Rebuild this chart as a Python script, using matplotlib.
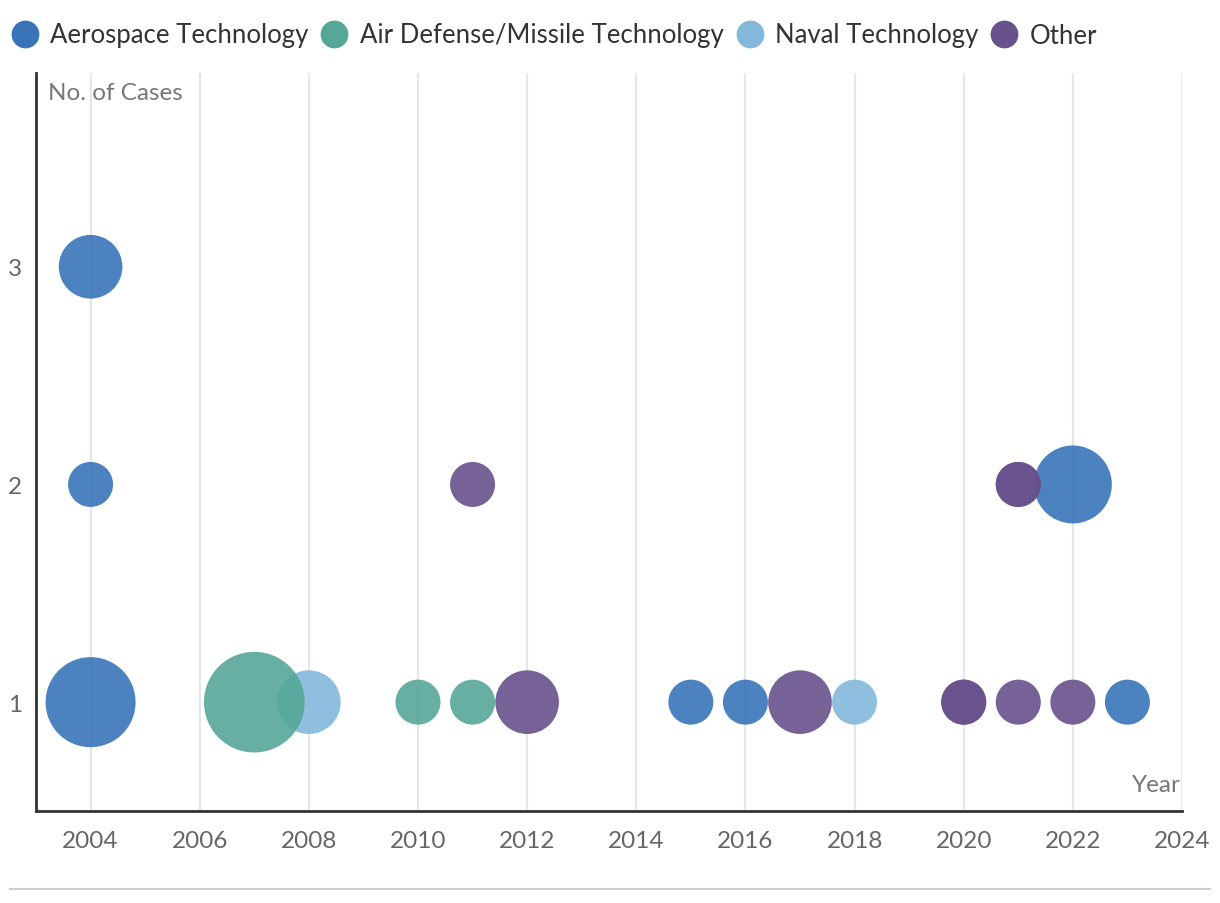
import matplotlib
matplotlib.use("Agg")
import matplotlib.pyplot as plt
from matplotlib.lines import Line2D

plt.rcParams['font.family'] = ['Lato', 'DejaVu Sans']

series_names = ["Aerospace Technology", "Air Defense/Missile Technology", "Naval Technology", "Other"]
colors = ["#3974b9", "#55a798", "#83b8db", "#68518c"]

aero_year = [2004, 2004, 2004, 2015, 2016, 2022, 2023]
aero_cases = [3, 2, 1, 1, 1, 2, 1]
aero_size = [2, 1, 4, 1, 1, 3, 1]

air_year = [2007, 2010, 2011]
air_cases = [1, 1, 1]
air_size = [5, 1, 1]

naval_year = [2008, 2018]
naval_cases = [1, 1]
naval_size = [2, 1]

other_year = [2011, 2012, 2017, 2020, 2020, 2021, 2021, 2021, 2022]
other_cases = [2, 1, 1, 1, 1, 1, 2, 2, 1]
other_size = [1, 2, 2, 1, 1, 1, 1, 1, 1]

xticks = list(range(2004, 2025, 2))
yticks = [1, 2, 3]

data = [
    (aero_year, aero_cases, aero_size, 2),
    (air_year, air_cases, air_size, 4),
    (naval_year, naval_cases, naval_size, 3),
    (other_year, other_cases, other_size, 5),
]

fig = plt.figure(figsize=(12.2, 9.04), dpi=100)
ax = fig.add_axes([36/1220, 1 - 812/904, (1182-36)/1220, (812-74)/904])

base = 1050
for (xs, ys, zs, zo), c in zip(data, colors):
    ax.scatter(xs, ys, s=[base * z for z in zs], color=c, alpha=0.9,
               linewidths=0, zorder=zo)

ax.set_xlim(2003, 2024)
ax.set_ylim(0.5, 3.89)
ax.set_xticks(xticks)
ax.set_yticks(yticks)
ax.set_xticklabels([str(t) for t in xticks])
ax.set_yticklabels([str(t) for t in yticks])
ax.grid(axis='x', color='#e6e6e6', linewidth=1.5, zorder=0)
ax.set_axisbelow(True)
for s in ['top', 'right']:
    ax.spines[s].set_visible(False)
for s in ['left', 'bottom']:
    ax.spines[s].set_color('#333333')
    ax.spines[s].set_linewidth(2)
ax.tick_params(axis='both', length=0, labelsize=17.5, colors='#666666')
ax.tick_params(axis='x', pad=14)
ax.tick_params(axis='y', pad=10)

fig.text(48/1220, 1 - 93/904, "No. of Cases", fontsize=17.5, color='#777777', va='center', ha='left')
fig.text(1181/1220, 1 - 785/904, "Year", fontsize=17.5, color='#777777', va='center', ha='right')

handles = [Line2D([0], [0], marker='o', linestyle='none', markersize=20,
                  markerfacecolor=c, markeredgewidth=0) for c in colors]
fig.legend(handles, series_names, loc='center left', bbox_to_anchor=(-0.003, 1 - 36/904),
           ncol=4, frameon=False, fontsize=18.5, handletextpad=0.3, columnspacing=0.3,
           handlelength=1.4, labelcolor='#333333', borderaxespad=0)

fig.add_artist(Line2D([10/1220, 1210/1220], [1 - 890/904, 1 - 890/904], color='#cccccc', linewidth=1.5))

fig.savefig("out.png", dpi=100)
